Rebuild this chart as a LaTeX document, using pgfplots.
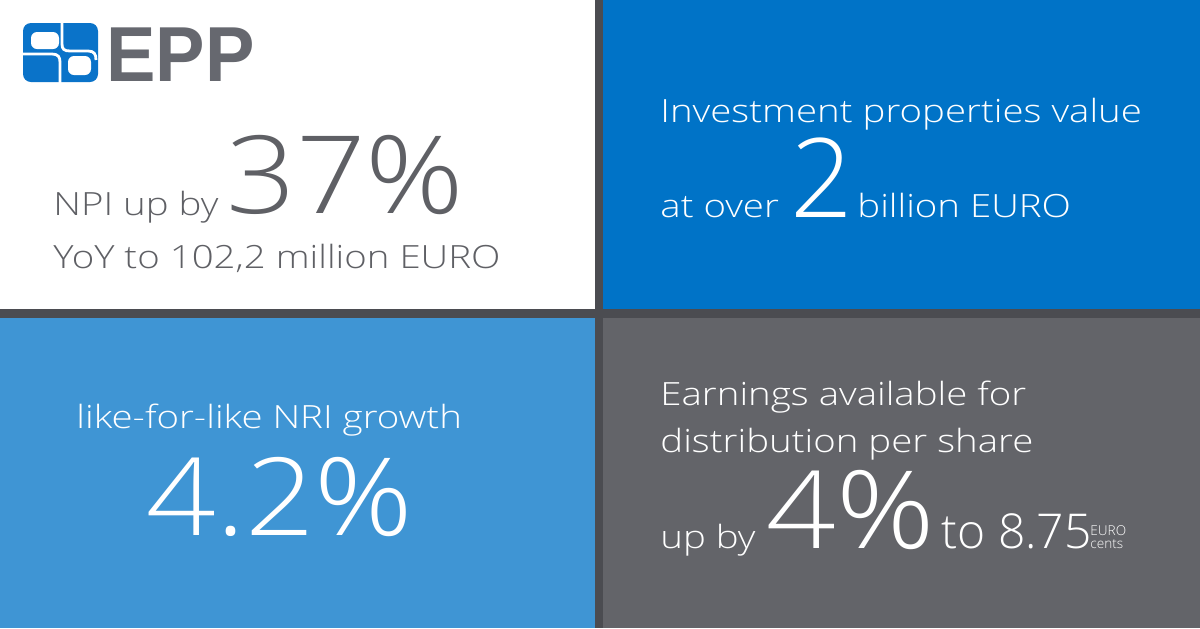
\documentclass[border=0pt]{standalone}
\usepackage{pgfplots}
\pgfplotsset{compat=1.18}
\usepackage{fontspec}
\setmainfont{Open Sans Light}
\newfontfamily\smfam{Open Sans Light}[FakeStretch=1.2]
\newfontfamily\bgfam{Open Sans Light}[FakeStretch=1.13]
\newfontfamily\logofont{Liberation Sans Bold}[FakeStretch=0.95]
\definecolor{divc}{HTML}{4B4C51}
\definecolor{bluec}{HTML}{0073C7}
\definecolor{lbluec}{HTML}{3F95D4}
\definecolor{grayc}{HTML}{636469}
\definecolor{txtgray}{HTML}{5F6065}
\definecolor{logoblue}{HTML}{0A73C9}
\definecolor{logogray}{HTML}{66686F}
\newcommand{\smtxt}{\smfam\fontsize{16}{19}\selectfont}
\newcommand{\bgtxt}{\bgfam\fontsize{54}{60}\selectfont}
\begin{document}
\begin{tikzpicture}
\begin{axis}[width=600pt,height=314pt,scale only axis,
  xmin=0,xmax=1200,ymin=0,ymax=628,y dir=reverse,hide axis,clip=false]
% panels
\addplot[fill=divc,draw=none] coordinates {(0,0)(1200,0)(1200,628)(0,628)} -- cycle;
\addplot[fill=white,draw=none] coordinates {(0,0)(595,0)(595,309)(0,309)} -- cycle;
\addplot[fill=bluec,draw=none] coordinates {(603,0)(1200,0)(1200,309)(603,309)} -- cycle;
\addplot[fill=lbluec,draw=none] coordinates {(0,318)(595,318)(595,628)(0,628)} -- cycle;
\addplot[fill=grayc,draw=none] coordinates {(603,318)(1200,318)(1200,628)(603,628)} -- cycle;
% logo
\fill[logoblue,rounded corners=4pt] (axis cs:23,23) rectangle (axis cs:98,82);
\fill[white,rounded corners=3pt] (axis cs:31,32) rectangle (axis cs:59,49);
\fill[white,rounded corners=3pt] (axis cs:68,56) rectangle (axis cs:91,75);
\draw[white,line width=1.4pt] (axis cs:22,54) -- (axis cs:52,54) .. controls (axis cs:58,54) and (axis cs:60,57) .. (axis cs:60,62) -- (axis cs:60,83);
\draw[white,line width=1.4pt] (axis cs:62,22) -- (axis cs:62,44) .. controls (axis cs:62,49) and (axis cs:64,51) .. (axis cs:70,51) -- (axis cs:88,51) .. controls (axis cs:94,51) and (axis cs:96,54) .. (axis cs:96,60);
\node[anchor=base west,inner sep=0pt,text=logogray,font=\logofont\fontsize{39}{40}\selectfont] at (axis cs:106,81) {EPP};
% top-left
\node[anchor=base west,inner sep=0pt,text=txtgray,font=\smtxt] at (axis cs:53,215) {NPI up by};
\node[anchor=base west,inner sep=0pt,text=txtgray,font=\bgtxt] at (axis cs:226,213) {37\%};
\node[anchor=base west,inner sep=0pt,text=txtgray,font=\smtxt] at (axis cs:53,268) {YoY to 102,2 million EURO};
% top-right
\node[anchor=base west,inner sep=0pt,text=white,font=\smtxt] at (axis cs:660,122) {Investment properties value};
\node[anchor=base west,inner sep=0pt,text=white,font=\smtxt] at (axis cs:660,217) {at over};
\node[anchor=base west,inner sep=0pt,text=white,font=\fontsize{55}{60}\selectfont] at (axis cs:790,217) {2};
\node[anchor=base west,inner sep=0pt,text=white,font=\smtxt] at (axis cs:857,217) {billion EURO};
% bottom-left
\node[anchor=base west,inner sep=0pt,text=white,font=\smtxt] at (axis cs:76,428) {like-for-like NRI growth};
\node[anchor=base west,inner sep=0pt,text=white,font=\bgtxt] at (axis cs:146,535) {4.2\%};
% bottom-right
\node[anchor=base west,inner sep=0pt,text=white,font=\smtxt] at (axis cs:660,405) {Earnings available for};
\node[anchor=base west,inner sep=0pt,text=white,font=\smtxt] at (axis cs:660,452) {distribution per share};
\node[anchor=base west,inner sep=0pt,text=white,font=\smtxt] at (axis cs:660,548) {up by};
\node[anchor=base west,inner sep=0pt,text=white,font=\bgtxt] at (axis cs:766,548) {4\%};
\node[anchor=base west,inner sep=0pt,text=white,font=\fontsize{24}{28}\selectfont] at (axis cs:941,548) {to 8.75};
\node[anchor=base west,inner sep=0pt,text=white,font=\fontsize{6.8}{7}\selectfont] at (axis cs:1090,535.5) {EURO};
\node[anchor=base west,inner sep=0pt,text=white,font=\fontsize{6.8}{7}\selectfont] at (axis cs:1090,548) {cents};
\end{axis}
\end{tikzpicture}
\end{document}
